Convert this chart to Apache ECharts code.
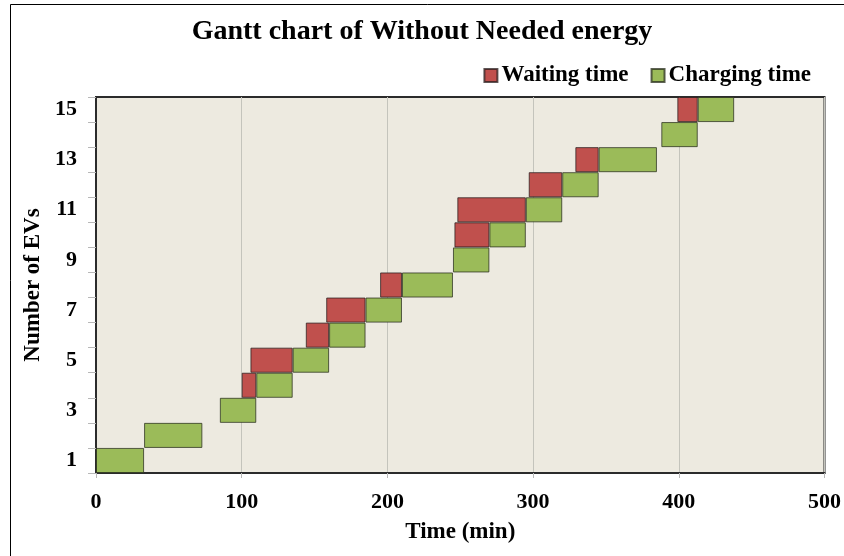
<!DOCTYPE html>
<html>
<head>
<meta charset="utf-8">
<script src="https://cdn.jsdelivr.net/npm/echarts@6/dist/echarts.min.js"></script>
<style>
html,body{margin:0;padding:0;background:#fff;}
#chart{width:844px;height:556px;}
</style>
</head>
<body>
<div id="chart"></div>
<script>
const evs = ['1','2','3','4','5','6','7','8','9','10','11','12','13','14','15'];
const waitStart = [null,null,null,100,106,144,158,195,null,246,248,297,329,null,399];
const chargeStart = [0,33,85,110,135,160,185,210,245,270,295,320,345,388,413];
const chargeEnd = [33,73,110,135,160,185,210,245,270,295,320,345,385,413,438];
const xTicks = [0,100,200,300,400,500];

const FONT = '"Liberation Serif", "Times New Roman", serif';
const offsetData = evs.map((_, i) => waitStart[i] != null ? waitStart[i] : chargeStart[i]);
const waitData = evs.map((_, i) => {
  const v = waitStart[i] != null ? chargeStart[i] - waitStart[i] : 0;
  return v > 0 ? v : { value: 0, itemStyle: { borderWidth: 0, opacity: 0 } };
});
const chargeData = evs.map((_, i) => chargeEnd[i] - chargeStart[i]);

const chart = echarts.init(document.getElementById('chart'), null, { renderer: 'canvas' });
chart.setOption({
  animation: false,
  backgroundColor: '#fff',
  textStyle: { fontFamily: FONT },
  graphic: [{
    type: 'rect', left: 8, top: 2, silent: true,
    shape: { width: 900, height: 600 },
    style: { fill: 'none', stroke: '#000', lineWidth: 1 }
  }],
  title: {
    text: 'Gantt chart of Without Needed energy',
    left: 'center', top: 18, padding: 0,
    textStyle: { fontFamily: FONT, fontSize: 28, fontWeight: 'bold', color: '#000' }
  },
  legend: {
    data: ['Waiting time', 'Charging time'],
    right: 33, top: 64, padding: 0,
    itemWidth: 13, itemHeight: 13, itemGap: 22,
    icon: 'rect',
    textStyle: { fontFamily: FONT, fontSize: 23, fontWeight: 'bold', color: '#000', padding: [0, 0, 0, -1] }
  },
  grid: {
    left: 96, right: 17, top: 97, bottom: 83,
    show: true, backgroundColor: '#EDEAE0', borderColor: '#2b2b2b', borderWidth: 2
  },
  xAxis: {
    type: 'value', min: 0, max: 500, interval: 100,
    name: 'Time (min)', nameLocation: 'middle', nameGap: 48,
    nameTextStyle: { fontFamily: FONT, fontSize: 23, fontWeight: 'bold', color: '#000' },
    axisLine: { show: true, lineStyle: { color: '#2b2b2b', width: 2 } },
    axisTick: { show: true, length: 5, lineStyle: { color: '#b8b8b8' } },
    axisLabel: { margin: 18, fontFamily: FONT, fontSize: 22, fontWeight: 'bold', color: '#000',
      formatter: v => xTicks.includes(v) ? String(v) : '' },
    splitLine: { show: true, lineStyle: { color: '#c4c4bc', width: 1 } }
  },
  yAxis: {
    type: 'category', data: evs,
    name: 'Number of EVs', nameLocation: 'middle', nameGap: 42, nameRotate: 90,
    nameTextStyle: { fontFamily: FONT, fontSize: 23, fontWeight: 'bold', color: '#000' },
    axisLine: { show: true, lineStyle: { color: '#2b2b2b', width: 2 } },
    axisTick: { show: true, length: 8, interval: 0, alignWithLabel: false, lineStyle: { color: '#b8b8b8' } },
    axisLabel: { interval: 1, margin: 19, fontFamily: FONT, fontSize: 22, fontWeight: 'bold', color: '#000' },
    splitLine: { show: false }
  },
  series: [
    {
      name: 'offset', type: 'bar', stack: 'g', data: offsetData,
      barCategoryGap: '0%', silent: true,
      itemStyle: { color: 'rgba(0,0,0,0)', borderWidth: 0 }
    },
    {
      name: 'Waiting time', type: 'bar', stack: 'g', data: waitData,
      barCategoryGap: '0%',
      itemStyle: { color: '#C0504D', borderColor: 'rgba(40,30,30,0.75)', borderWidth: 1 }
    },
    {
      name: 'Charging time', type: 'bar', stack: 'g', data: chargeData,
      barCategoryGap: '0%',
      itemStyle: { color: '#9BBB59', borderColor: 'rgba(40,45,30,0.75)', borderWidth: 1 }
    }
  ]
});
</script>
</body>
</html>
